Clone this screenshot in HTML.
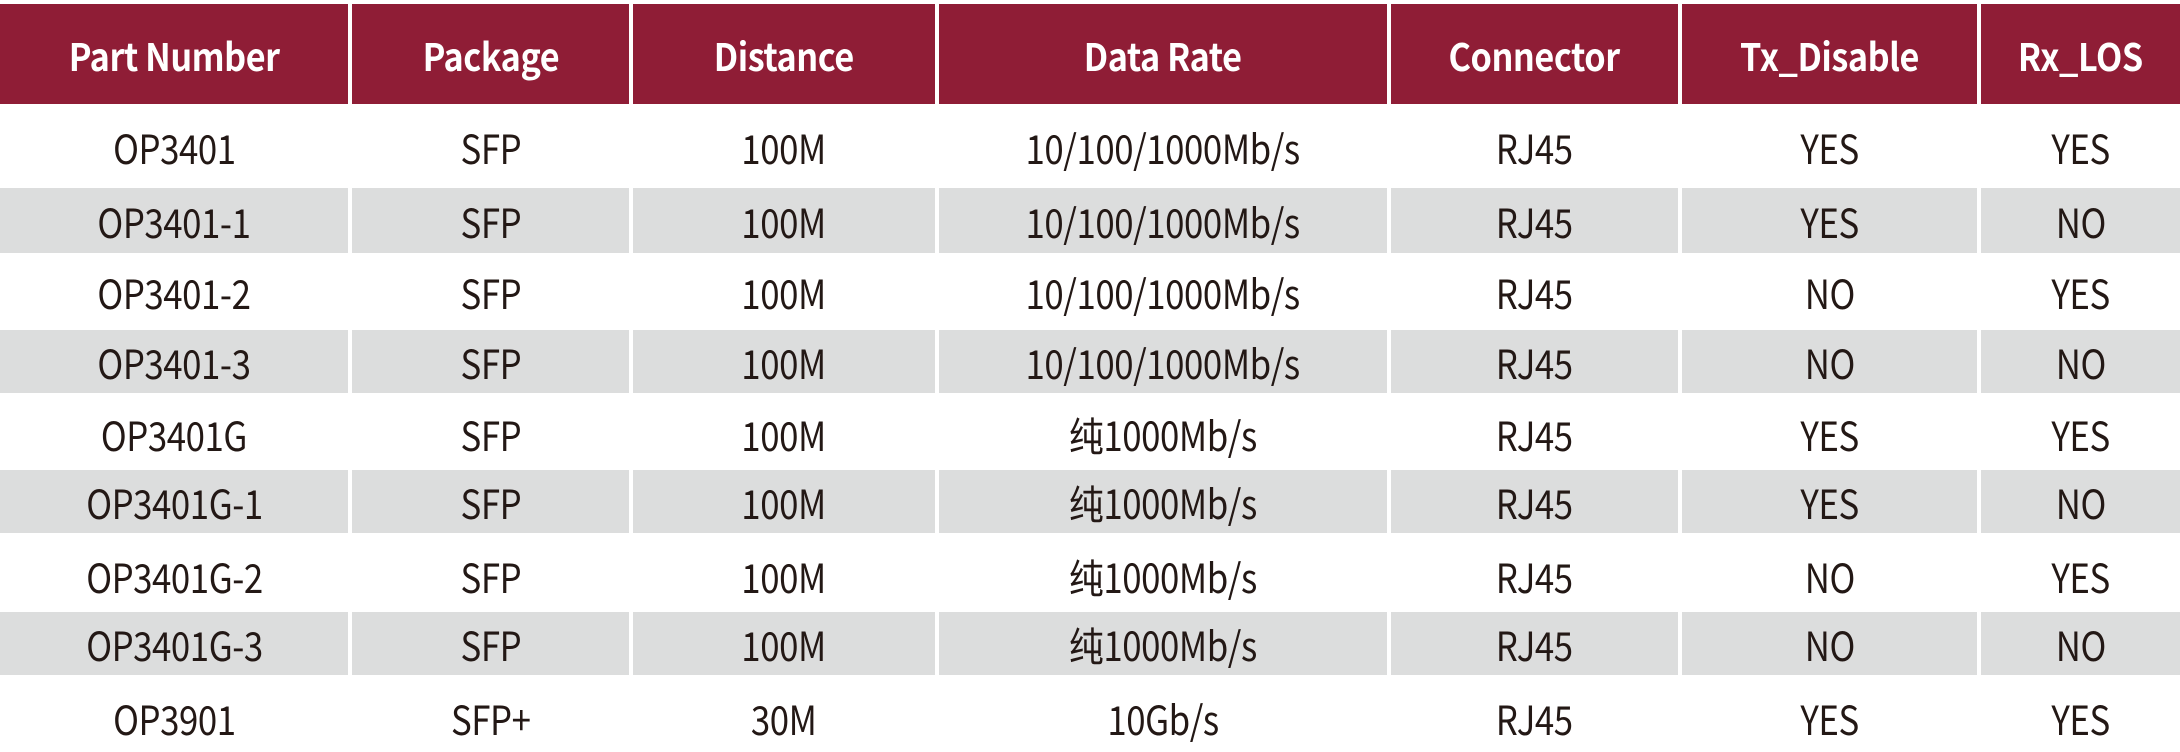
<!DOCTYPE html>
<html><head><meta charset="utf-8"><style>
html,body{margin:0;padding:0;background:#fff;width:2180px;height:752px;overflow:hidden}
body{position:relative;font-family:"Liberation Sans","Noto Sans CJK SC",sans-serif}
.row{position:absolute;left:0;width:2180px;display:flex}
.c{box-sizing:border-box;display:flex;align-items:center;justify-content:center;border-right:4px solid #fff;height:100%;font-family:"Noto Sans CJK SC",sans-serif;font-size:40px;color:#231815;letter-spacing:-0.5px}
.c span{display:inline-block;transform:scaleX(0.87);white-space:nowrap}
.c:last-child{border-right:none}
.h .c{background:#8f1d36;color:#fff;font-weight:bold;font-size:38px}
.h .c span{transform:scaleX(0.9)}
.g .c{background:#dcdddd}
.w1{width:352px}.w2{width:281px}.w3{width:306px}.w4{width:452px}.w5{width:291px}.w6{width:299px}.w7{width:199px}
</style></head><body>
<div class="row h" style="top:4px;height:100px"><div class="c w1"><span>Part Number</span></div><div class="c w2"><span>Package</span></div><div class="c w3"><span>Distance</span></div><div class="c w4"><span>Data Rate</span></div><div class="c w5"><span>Connector</span></div><div class="c w6"><span>Tx_Disable</span></div><div class="c w7"><span>Rx_LOS</span></div></div>

<div class="row" style="top:114px;height:65px"><div class="c w1"><span>OP3401</span></div><div class="c w2"><span>SFP</span></div><div class="c w3"><span>100M</span></div><div class="c w4"><span>10/100/1000Mb/s</span></div><div class="c w5"><span>RJ45</span></div><div class="c w6"><span>YES</span></div><div class="c w7"><span>YES</span></div></div>
<div class="row g" style="top:188px;height:65px"><div class="c w1"><span>OP3401-1</span></div><div class="c w2"><span>SFP</span></div><div class="c w3"><span>100M</span></div><div class="c w4"><span>10/100/1000Mb/s</span></div><div class="c w5"><span>RJ45</span></div><div class="c w6"><span>YES</span></div><div class="c w7"><span>NO</span></div></div>
<div class="row" style="top:259px;height:65px"><div class="c w1"><span>OP3401-2</span></div><div class="c w2"><span>SFP</span></div><div class="c w3"><span>100M</span></div><div class="c w4"><span>10/100/1000Mb/s</span></div><div class="c w5"><span>RJ45</span></div><div class="c w6"><span>NO</span></div><div class="c w7"><span>YES</span></div></div>
<div class="row g" style="top:330px;height:63px"><div class="c w1"><span>OP3401-3</span></div><div class="c w2"><span>SFP</span></div><div class="c w3"><span>100M</span></div><div class="c w4"><span>10/100/1000Mb/s</span></div><div class="c w5"><span>RJ45</span></div><div class="c w6"><span>NO</span></div><div class="c w7"><span>NO</span></div></div>
<div class="row" style="top:401px;height:65px"><div class="c w1"><span>OP3401G</span></div><div class="c w2"><span>SFP</span></div><div class="c w3"><span>100M</span></div><div class="c w4"><span>纯1000Mb/s</span></div><div class="c w5"><span>RJ45</span></div><div class="c w6"><span>YES</span></div><div class="c w7"><span>YES</span></div></div>
<div class="row g" style="top:470px;height:63px"><div class="c w1"><span>OP3401G-1</span></div><div class="c w2"><span>SFP</span></div><div class="c w3"><span>100M</span></div><div class="c w4"><span>纯1000Mb/s</span></div><div class="c w5"><span>RJ45</span></div><div class="c w6"><span>YES</span></div><div class="c w7"><span>NO</span></div></div>
<div class="row" style="top:543px;height:65px"><div class="c w1"><span>OP3401G-2</span></div><div class="c w2"><span>SFP</span></div><div class="c w3"><span>100M</span></div><div class="c w4"><span>纯1000Mb/s</span></div><div class="c w5"><span>RJ45</span></div><div class="c w6"><span>NO</span></div><div class="c w7"><span>YES</span></div></div>
<div class="row g" style="top:612px;height:63px"><div class="c w1"><span>OP3401G-3</span></div><div class="c w2"><span>SFP</span></div><div class="c w3"><span>100M</span></div><div class="c w4"><span>纯1000Mb/s</span></div><div class="c w5"><span>RJ45</span></div><div class="c w6"><span>NO</span></div><div class="c w7"><span>NO</span></div></div>
<div class="row" style="top:685px;height:65px"><div class="c w1"><span>OP3901</span></div><div class="c w2"><span>SFP+</span></div><div class="c w3"><span>30M</span></div><div class="c w4"><span>10Gb/s</span></div><div class="c w5"><span>RJ45</span></div><div class="c w6"><span>YES</span></div><div class="c w7"><span>YES</span></div></div>
</body></html>
